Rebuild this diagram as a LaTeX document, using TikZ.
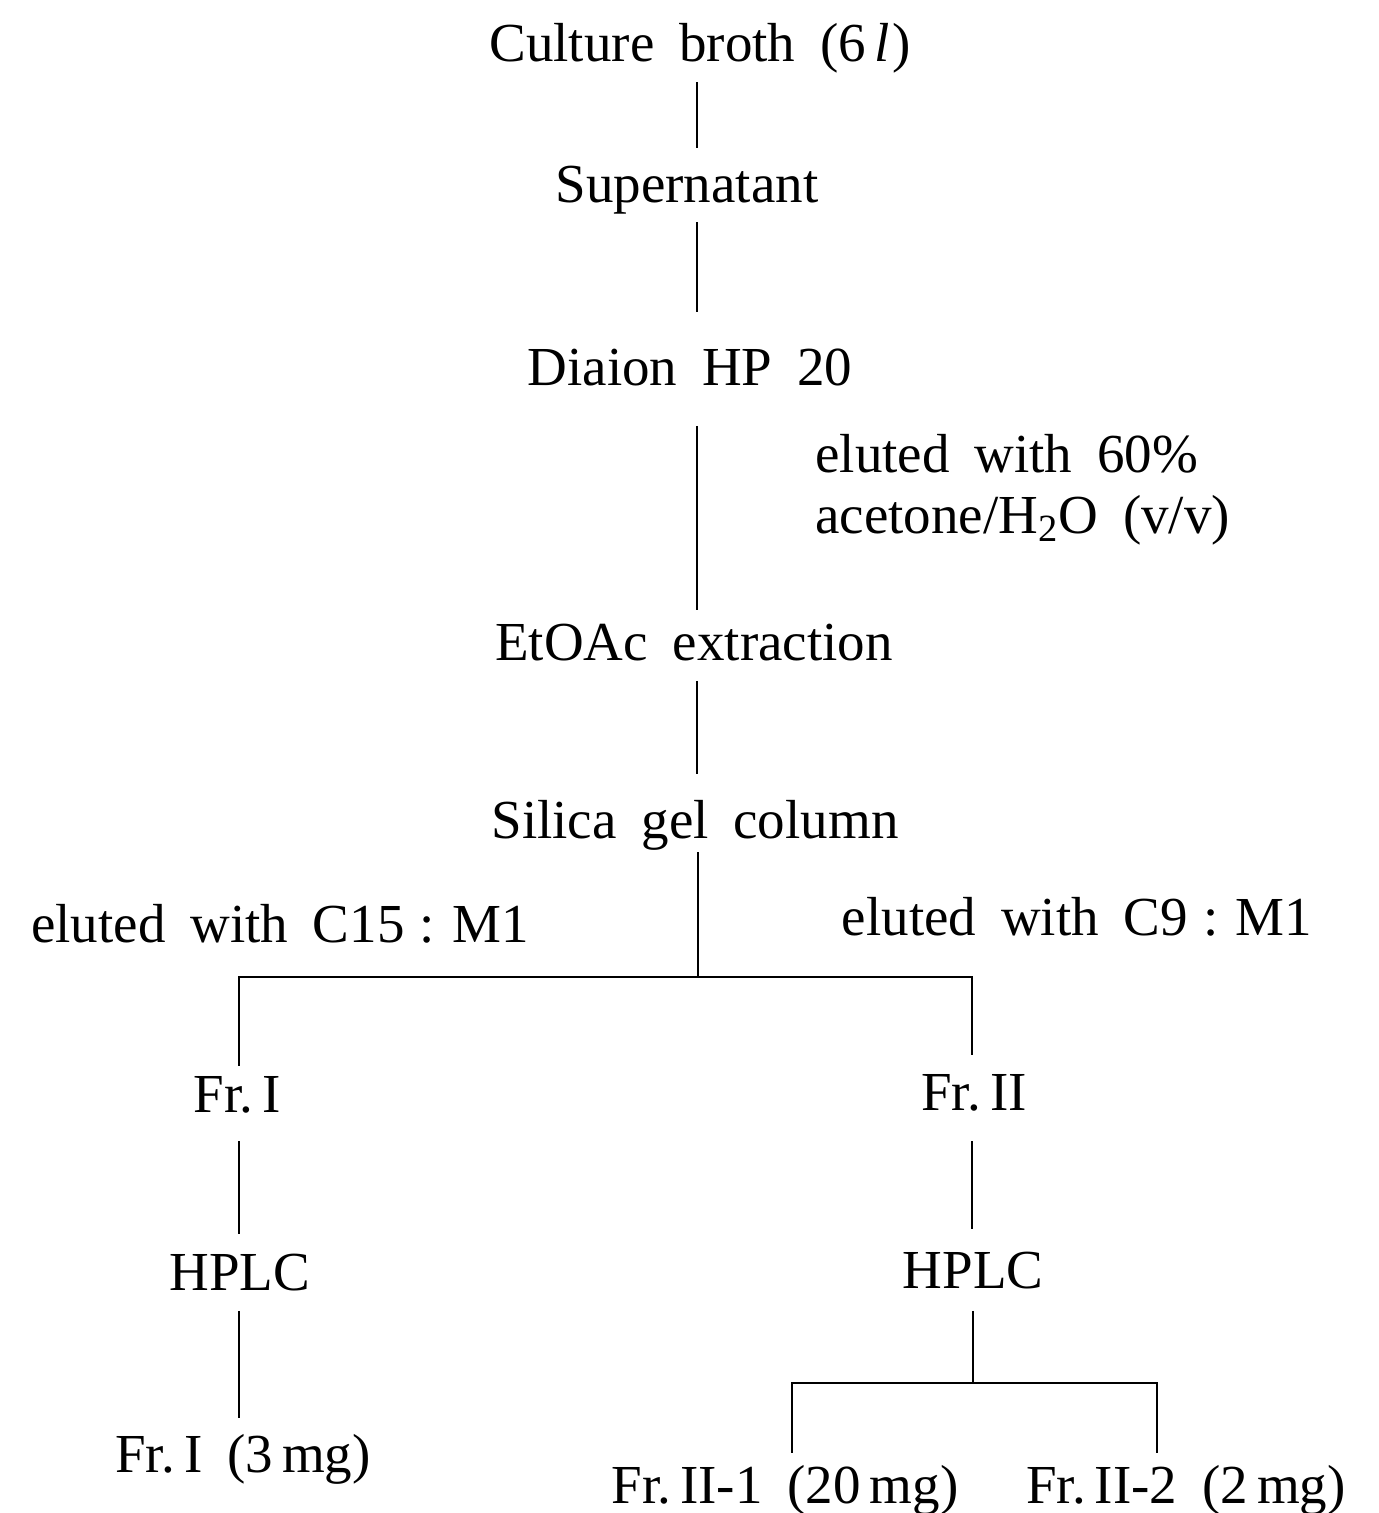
\documentclass[tikz,border=0pt]{standalone}
\usepackage{fontspec}
\setmainfont{Liberation Serif}[WordSpace={1.8,1,1}]
\begin{document}
\begin{tikzpicture}[x=0.5pt,y=-0.5pt,
  txt/.style={inner sep=0pt, anchor=base, font=\fontsize{27.5}{33}\selectfont},
  link/.style={line width=1.1pt}]
\useasboundingbox (0,0) rectangle (1379,1513);
% spine coordinates
\coordinate (sp) at (697,0);
\coordinate (lx) at (239,0);
\coordinate (rx) at (972,0);
\coordinate (j1) at (698,977);
\coordinate (j2) at (973,1383);
% texts
\node[txt] (cb) at (700,62) {Culture broth (6\,\textit{l}\kern1pt)};
\node[txt] (sn) at (687,203) {Supernatant};
\node[txt] (dn) at (690,386) {Diaion HP 20};
\node[txt, anchor=base west] (el1) at (815,473) {eluted with 60\%};
\node[txt, anchor=base west] (el2) at (815,533) {acetone/H\textsubscript{2}O (v/v)};
\node[txt] (et) at (694,660) {EtOAc extraction};
\node[txt] (sg) at (695,838) {Silica gel column};
\node[txt] (c15) at (280,942) {eluted with C15\;:\;\kern1ptM1};
\node[txt] (c9) at (1077,935) {eluted with C9\;:\;\kern1ptM1};
\node[txt] (fr1) at (237,1112) {Fr.\,I};
\node[txt] (fr2) at (974,1110) {Fr.\,II};
\node[txt] (hl) at (240,1290) {HPLC};
\node[txt] (hr) at (973,1288) {HPLC};
\node[txt] (fr1b) at (243,1472) {Fr.\,I (3\,mg)};
\node[txt] (f21) at (785,1503) {Fr.\,II-1 (20\,mg)};
\node[txt] (f22) at (1186,1503) {Fr.\,II-2 (2\,mg)};
% connectors
\draw[link, shorten <=4pt, shorten >=9pt] (cb.south -| sp) -- (sn.north -| sp);
\draw[link, shorten <=3.5pt, shorten >=18.5pt] (sn.south -| sp) -- (dn.north -| sp);
\draw[link, shorten <=19.5pt, shorten >=6.5pt] (dn.south -| sp) -- (et.north -| sp);
\draw[link, shorten <=10pt, shorten >=12.5pt] (et.south -| sp) -- (sg.north -| sp);
\draw[link, shorten <=1pt] (sg.south -| j1) -- (j1);
\draw[link, shorten >=5pt] (j1) -| (fr1.north -| lx);
\draw[link, shorten >=9.5pt] (j1) -| (fr2.north -| rx);
\draw[link, shorten <=14pt, shorten >=9.5pt] (fr1.south -| lx) -- (hl.north -| lx);
\draw[link, shorten <=10pt, shorten >=7.5pt] (hl.south -| lx) -- (fr1b.north -| lx);
\draw[link, shorten <=15pt, shorten >=11pt] (fr2.south -| rx) -- (hr.north -| rx);
\draw[link, shorten <=11pt] (hr.south -| j2) -- (j2);
\draw[link, shorten >=5.5pt] (j2) -| ([xshift=3.5pt]f21.north);
\draw[link, shorten >=5.5pt] (j2) -| ([xshift=-14.5pt]f22.north);
\end{tikzpicture}
\end{document}
